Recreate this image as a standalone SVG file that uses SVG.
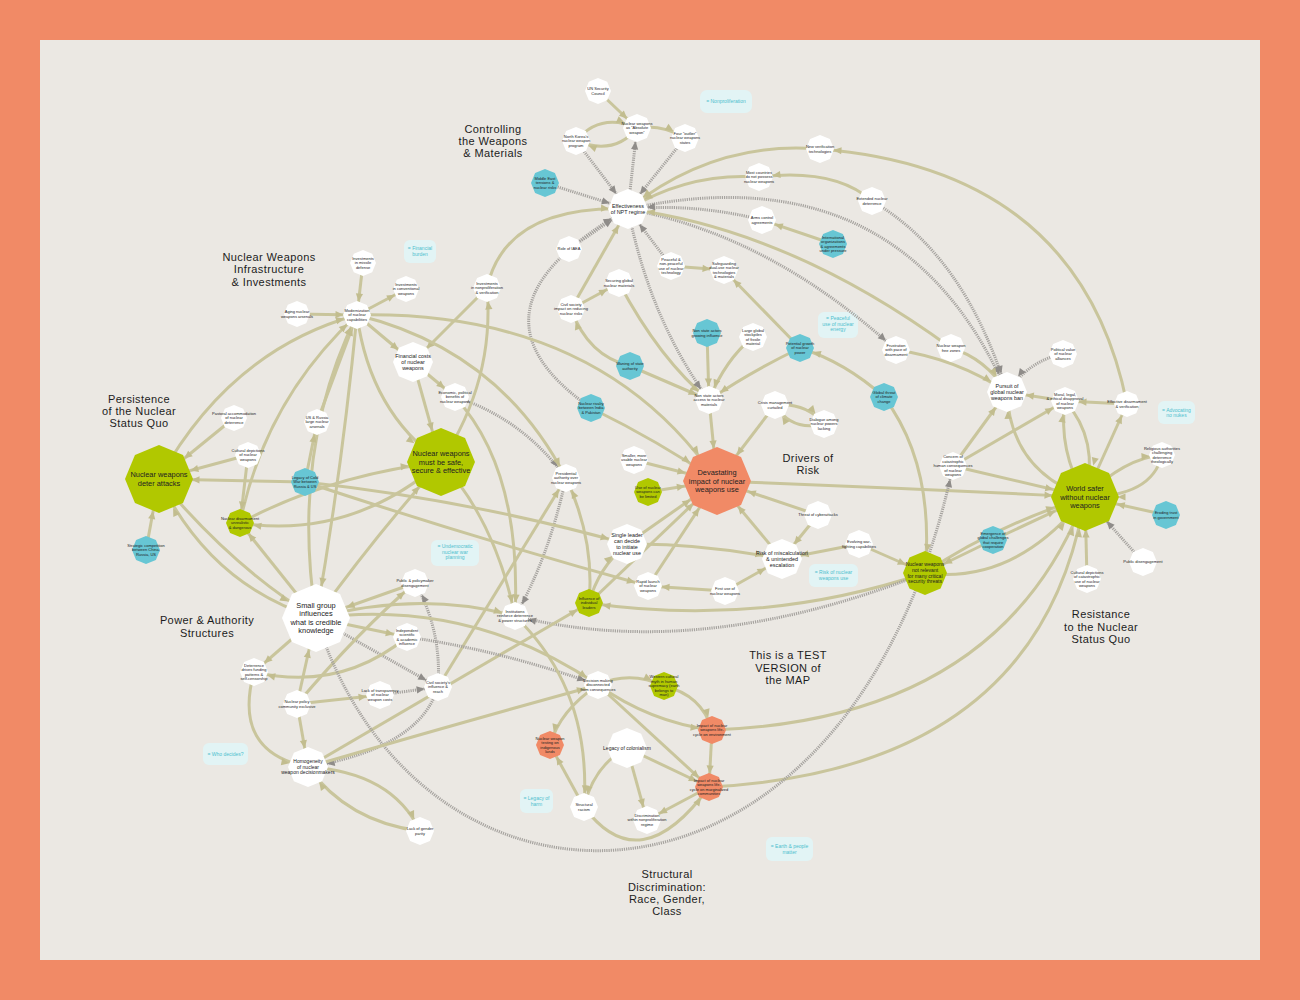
<svg xmlns="http://www.w3.org/2000/svg" width="1300" height="1000" viewBox="0 0 1300 1000">
<style>
.t{font-family:"Liberation Sans",Arial,sans-serif;fill:#222;text-anchor:middle}
.s{font-size:4px}
.m{font-size:5.4px}
.L{font-size:7.4px}
.q{font-size:5px}
.h{font-family:"Liberation Sans",Arial,sans-serif;font-size:11px;letter-spacing:0.4px;fill:#1c1c1c;text-anchor:middle}
.p{font-family:"Liberation Sans",Arial,sans-serif;font-size:5px;fill:#4dbfce;text-anchor:middle}
.pill{fill:#e2f4f5}
.w{fill:#ffffff}
.gr{fill:#b1c800}
.bl{fill:#67c6d4}
.or{fill:#f18a66}
.k{fill:none;stroke:#c9c59c;stroke-width:3}
.g{fill:none;stroke:#a6a39f;stroke-width:3;stroke-dasharray:1.2 1}
</style>
<defs>
<polygon id="o" points="0,-1 0.707,-0.707 1,0 0.707,0.707 0,1 -0.707,0.707 -1,0 -0.707,-0.707"/>
<marker id="kA" markerUnits="userSpaceOnUse" orient="auto" style="overflow:visible"><path d="M-12.5,0 L-20.5,-3.6 L-20.5,3.6 Z" fill="#c2bd8f"/></marker>
<marker id="kB" markerUnits="userSpaceOnUse" orient="auto" style="overflow:visible"><path d="M-13.5,0 L-21.5,-3.6 L-21.5,3.6 Z" fill="#c2bd8f"/></marker>
<marker id="kC" markerUnits="userSpaceOnUse" orient="auto" style="overflow:visible"><path d="M-19,0 L-27,-3.6 L-27,3.6 Z" fill="#c2bd8f"/></marker>
<marker id="kD" markerUnits="userSpaceOnUse" orient="auto" style="overflow:visible"><path d="M-21,0 L-29,-3.6 L-29,3.6 Z" fill="#c2bd8f"/></marker>
<marker id="kE" markerUnits="userSpaceOnUse" orient="auto" style="overflow:visible"><path d="M-32.5,0 L-40.5,-3.6 L-40.5,3.6 Z" fill="#c2bd8f"/></marker>
<marker id="gB" markerUnits="userSpaceOnUse" orient="auto" style="overflow:visible"><path d="M-13.5,0 L-21.5,-3.6 L-21.5,3.6 Z" fill="#8f8c89"/></marker>
<marker id="gC" markerUnits="userSpaceOnUse" orient="auto" style="overflow:visible"><path d="M-19,0 L-27,-3.6 L-27,3.6 Z" fill="#8f8c89"/></marker>
<marker id="gE" markerUnits="userSpaceOnUse" orient="auto" style="overflow:visible"><path d="M-32.5,0 L-40.5,-3.6 L-40.5,3.6 Z" fill="#8f8c89"/></marker>
</defs>
<rect x="0" y="0" width="1300" height="1000" fill="#f18a66"/>
<rect x="40" y="40" width="1220" height="920" fill="#ebe8e3"/>

<g id="titles">
<text class="h" x="493" y="132.6"><tspan x="493">Controlling</tspan><tspan x="493" dy="12.4">the Weapons</tspan><tspan x="493" dy="12.4">&amp; Materials</tspan></text>
<text class="h" x="269" y="260.8"><tspan x="269">Nuclear Weapons</tspan><tspan x="269" dy="12.4">Infrastructure</tspan><tspan x="269" dy="12.4">&amp; Investments</tspan></text>
<text class="h" x="139" y="402.6"><tspan x="139">Persistence</tspan><tspan x="139" dy="12.4">of the Nuclear</tspan><tspan x="139" dy="12.4">Status Quo</tspan></text>
<text class="h" x="207" y="624.3"><tspan x="207">Power &amp; Authority</tspan><tspan x="207" dy="12.4">Structures</tspan></text>
<text class="h" x="808" y="461.6"><tspan x="808">Drivers of</tspan><tspan x="808" dy="12.4">Risk</tspan></text>
<text class="h" x="1101" y="618.3"><tspan x="1101">Resistance</tspan><tspan x="1101" dy="12.4">to the Nuclear</tspan><tspan x="1101" dy="12.4">Status Quo</tspan></text>
<text class="h" x="788" y="659.3"><tspan x="788">This is a TEST</tspan><tspan x="788" dy="12.4">VERSION of</tspan><tspan x="788" dy="12.4">the MAP</tspan></text>
<text class="h" x="667" y="878.1"><tspan x="667">Structural</tspan><tspan x="667" dy="12.4">Discrimination:</tspan><tspan x="667" dy="12.4">Race, Gender,</tspan><tspan x="667" dy="12.4">Class</tspan></text>
</g>

<g id="pills">
<rect class="pill" x="700" y="90" width="52" height="23" rx="7"/><text class="p" x="726" y="103.3">= Nonproliferation</text>
<rect class="pill" x="404" y="240" width="32" height="23" rx="6"/><text class="p" x="420" y="250.2"><tspan x="420">= Financial</tspan><tspan x="420" dy="5.6">burden</tspan></text>
<rect class="pill" x="818" y="312" width="40" height="26" rx="6"/><text class="p" x="838" y="320"><tspan x="838">= Peaceful</tspan><tspan x="838" dy="5.6">use of nuclear</tspan><tspan x="838" dy="5.6">energy</tspan></text>
<rect class="pill" x="1158" y="401" width="37" height="23" rx="6"/><text class="p" x="1176.5" y="411.5"><tspan x="1176.5">= Advocating</tspan><tspan x="1176.5" dy="5.6">no nukes</tspan></text>
<rect class="pill" x="431" y="540" width="48" height="26" rx="6"/><text class="p" x="455" y="548"><tspan x="455">= Undemocratic</tspan><tspan x="455" dy="5.6">nuclear war</tspan><tspan x="455" dy="5.6">planning</tspan></text>
<rect class="pill" x="809" y="564" width="49" height="23" rx="6"/><text class="p" x="833.5" y="574.3"><tspan x="833.5">= Risk of nuclear</tspan><tspan x="833.5" dy="5.6">weapons use</tspan></text>
<rect class="pill" x="203" y="743" width="45" height="22" rx="6"/><text class="p" x="225.5" y="755.6">= Who decides?</text>
<rect class="pill" x="520" y="789" width="33" height="24" rx="6"/><text class="p" x="536.5" y="800.3"><tspan x="536.5">= Legacy of</tspan><tspan x="536.5" dy="5.6">harm</tspan></text>
<rect class="pill" x="766" y="837" width="47" height="24" rx="6"/><text class="p" x="789.5" y="848.3"><tspan x="789.5">= Earth &amp; people</tspan><tspan x="789.5" dy="5.6">matter</tspan></text>
</g>

<g id="connectors">
<path class="k" d="M598,91 L637,128" marker-end="url(#kB)"/>
<path class="k" d="M576,141 Q600,112 637,128" marker-end="url(#kB)"/>
<path class="k" d="M637,128 Q615,156 576,141" marker-end="url(#kB)"/>
<path class="k" d="M637,128 Q662,124 685,138" marker-end="url(#kB)"/>
<path class="g" d="M628,209 L637,128" marker-end="url(#gB)"/>
<path class="g" d="M576,141 L628,209" marker-end="url(#gC)"/>
<path class="g" d="M685,138 L628,209" marker-end="url(#gC)"/>
<path class="g" d="M545,183 L628,209" marker-end="url(#gC)"/>
<path class="g" d="M569,249 L628,209" marker-end="url(#gC)"/>
<path class="k" d="M487,288 Q505,205 628,209" marker-end="url(#kC)"/>
<path class="k" d="M571,309 L628,209" marker-end="url(#kC)"/>
<path class="k" d="M571,309 L619,283" marker-end="url(#kB)"/>
<path class="g" d="M671,266 L628,209" marker-end="url(#gC)"/>
<path class="k" d="M671,266 L724,270" marker-end="url(#kB)"/>
<path class="k" d="M820,149 Q715,140 628,209" marker-end="url(#kC)"/>
<path class="k" d="M1127,404 Q1080,170 820,149" marker-end="url(#kB)"/>
<path class="k" d="M759,177 Q690,172 628,209" marker-end="url(#kC)"/>
<path class="k" d="M872,201 Q835,168 759,177" marker-end="url(#kB)"/>
<path class="g" d="M872,201 Q965,255 1007,392" marker-end="url(#gC)"/>
<path class="g" d="M628,209 Q900,150 1007,392" marker-end="url(#gC)"/>
<path class="g" d="M628,209 Q770,235 896,350" marker-end="url(#gB)"/>
<path class="k" d="M951,348 Q790,230 628,209" marker-end="url(#kC)"/>
<path class="k" d="M896,350 Q955,358 1007,392" marker-end="url(#kC)"/>
<path class="k" d="M951,348 Q985,358 1007,392" marker-end="url(#kC)"/>
<path class="g" d="M1063,354 Q1030,360 1007,392" marker-end="url(#gC)"/>
<path class="g" d="M762,220 Q695,203 628,209" marker-end="url(#gC)"/>
<path class="k" d="M833,244 L762,220" marker-end="url(#kB)"/>
<path class="k" d="M800,348 L724,270" marker-end="url(#kB)"/>
<path class="k" d="M884,397 Q845,362 800,348" marker-end="url(#kB)"/>
<path class="k" d="M753,337 Q725,360 709,400" marker-end="url(#kB)"/>
<path class="k" d="M707,333 L709,400" marker-end="url(#kB)"/>
<path class="k" d="M800,348 Q750,372 709,400" marker-end="url(#kB)"/>
<path class="k" d="M619,283 Q660,360 709,400" marker-end="url(#kB)"/>
<path class="g" d="M628,209 Q650,320 709,400" marker-end="url(#gB)"/>
<path class="k" d="M630,366 L709,400" marker-end="url(#kB)"/>
<path class="g" d="M591,408 Q450,310 628,209" marker-end="url(#gC)"/>
<path class="k" d="M630,366 Q588,356 571,309" marker-end="url(#kB)"/>
<path class="k" d="M775,405 L717,481" marker-end="url(#kE)"/>
<path class="k" d="M775,405 Q806,402 824,424" marker-end="url(#kB)"/>
<path class="k" d="M824,424 Q792,432 775,405" marker-end="url(#kB)"/>
<path class="k" d="M709,400 L717,481" marker-end="url(#kE)"/>
<path class="k" d="M634,460 L717,481" marker-end="url(#kE)"/>
<path class="k" d="M648,492 L717,481" marker-end="url(#kE)"/>
<path class="k" d="M591,408 Q660,442 717,481" marker-end="url(#kE)"/>
<path class="k" d="M818,515 L717,481" marker-end="url(#kE)"/>
<path class="k" d="M818,515 L782,559" marker-end="url(#kC)"/>
<path class="k" d="M782,559 L717,481" marker-end="url(#kE)"/>
<path class="k" d="M859,544 L782,559" marker-end="url(#kC)"/>
<path class="k" d="M859,544 L925,573" marker-end="url(#kD)"/>
<path class="k" d="M884,397 Q935,465 925,573" marker-end="url(#kD)"/>
<path class="k" d="M717,481 Q900,488 1085,497" marker-end="url(#kE)"/>
<path class="k" d="M725,591 L782,559" marker-end="url(#kC)"/>
<path class="k" d="M725,591 L648,586" marker-end="url(#kB)"/>
<path class="k" d="M627,544 Q700,543 782,559" marker-end="url(#kC)"/>
<path class="k" d="M627,544 L717,481" marker-end="url(#kE)"/>
<path class="k" d="M589,603 Q598,568 627,544" marker-end="url(#kC)"/>
<path class="k" d="M589,603 Q595,540 566,478" marker-end="url(#kB)"/>
<path class="g" d="M566,478 Q548,560 515,616" marker-end="url(#gB)"/>
<path class="k" d="M438,687 L566,478" marker-end="url(#kB)"/>
<path class="k" d="M441,462 Q495,520 515,616" marker-end="url(#kB)"/>
<path class="k" d="M455,397 Q522,470 515,616" marker-end="url(#kB)"/>
<path class="g" d="M455,397 Q522,418 566,478" marker-end="url(#gB)"/>
<path class="k" d="M925,573 Q760,628 589,603" marker-end="url(#kB)"/>
<path class="g" d="M925,573 Q700,662 515,616" marker-end="url(#gB)"/>
<path class="k" d="M925,573 Q990,528 1085,497" marker-end="url(#kE)"/>
<path class="k" d="M993,540 L1085,497" marker-end="url(#kE)"/>
<path class="k" d="M993,540 L925,573" marker-end="url(#kD)"/>
<path class="k" d="M925,573 Q1015,585 1085,497" marker-end="url(#kE)"/>
<path class="k" d="M1065,401 L1007,392" marker-end="url(#kC)"/>
<path class="k" d="M1127,404 L1065,401" marker-end="url(#kB)"/>
<path class="k" d="M1085,497 Q1010,470 1007,392" marker-end="url(#kC)"/>
<path class="k" d="M953,466 L1007,392" marker-end="url(#kC)"/>
<path class="k" d="M953,466 L1085,497" marker-end="url(#kE)"/>
<path class="k" d="M953,466 L1065,401" marker-end="url(#kB)"/>
<path class="k" d="M1085,497 Q1058,450 1065,401" marker-end="url(#kB)"/>
<path class="k" d="M1065,401 Q1100,440 1085,497" marker-end="url(#kE)"/>
<path class="k" d="M1085,497 L1127,404" marker-end="url(#kA)"/>
<path class="k" d="M1085,497 Q1125,458 1162,455" marker-end="url(#kA)"/>
<path class="k" d="M1162,455 Q1152,497 1085,497" marker-end="url(#kE)"/>
<path class="k" d="M1166,515 L1085,497" marker-end="url(#kE)"/>
<path class="g" d="M1143,562 L1085,497" marker-end="url(#gE)"/>
<path class="k" d="M1087,579 L1085,497" marker-end="url(#kE)"/>
<path class="k" d="M712,730 Q1000,720 1085,497" marker-end="url(#kE)"/>
<path class="k" d="M709,787 Q1040,770 1085,497" marker-end="url(#kE)"/>
<path class="k" d="M308,767 L589,603" marker-end="url(#kB)"/>
<path class="k" d="M297,314 L357,315" marker-end="url(#kB)"/>
<path class="k" d="M363,263 L357,315" marker-end="url(#kB)"/>
<path class="k" d="M357,315 L406,289" marker-end="url(#kA)"/>
<path class="k" d="M357,315 L413,362" marker-end="url(#kC)"/>
<path class="k" d="M487,288 L413,362" marker-end="url(#kC)"/>
<path class="k" d="M441,462 Q495,380 487,288" marker-end="url(#kB)"/>
<path class="k" d="M159,479 Q230,350 357,315" marker-end="url(#kB)"/>
<path class="k" d="M317,422 L357,315" marker-end="url(#kB)"/>
<path class="k" d="M240,523 Q265,400 357,315" marker-end="url(#kB)"/>
<path class="k" d="M316,618 Q290,450 357,315" marker-end="url(#kB)"/>
<path class="k" d="M357,315 Q342,470 316,618" marker-end="url(#kE)"/>
<path class="k" d="M357,315 Q370,412 441,462" marker-end="url(#kE)"/>
<path class="k" d="M413,362 L441,462" marker-end="url(#kE)"/>
<path class="k" d="M357,315 Q600,310 717,481" marker-end="url(#kE)"/>
<path class="k" d="M357,315 Q500,350 566,478" marker-end="url(#kB)"/>
<path class="k" d="M413,362 L455,397" marker-end="url(#kB)"/>
<path class="k" d="M234,418 L159,479" marker-end="url(#kE)"/>
<path class="k" d="M248,455 L159,479" marker-end="url(#kE)"/>
<path class="k" d="M305,482 L159,479" marker-end="url(#kE)"/>
<path class="k" d="M146,550 L159,479" marker-end="url(#kE)"/>
<path class="k" d="M305,482 L317,422" marker-end="url(#kA)"/>
<path class="k" d="M248,455 L240,523" marker-end="url(#kB)"/>
<path class="k" d="M316,618 L240,523" marker-end="url(#kB)"/>
<path class="k" d="M441,462 Q350,540 240,523" marker-end="url(#kB)"/>
<path class="k" d="M240,523 Q330,475 441,462" marker-end="url(#kE)"/>
<path class="k" d="M316,618 Q372,540 441,462" marker-end="url(#kE)"/>
<path class="k" d="M305,482 Q470,500 627,544" marker-end="url(#kC)"/>
<path class="k" d="M305,482 Q480,540 648,586" marker-end="url(#kB)"/>
<path class="k" d="M316,618 Q210,585 159,479" marker-end="url(#kE)"/>
<path class="k" d="M159,479 Q235,570 316,618" marker-end="url(#kE)"/>
<path class="k" d="M415,583 L316,618" marker-end="url(#kE)"/>
<path class="k" d="M316,618 L407,637" marker-end="url(#kB)"/>
<path class="g" d="M316,618 L438,687" marker-end="url(#gB)"/>
<path class="k" d="M316,618 L254,672" marker-end="url(#kB)"/>
<path class="k" d="M297,704 L316,618" marker-end="url(#kE)"/>
<path class="k" d="M297,704 L308,767" marker-end="url(#kC)"/>
<path class="k" d="M254,672 Q232,752 308,767" marker-end="url(#kC)"/>
<path class="k" d="M407,637 Q340,692 254,672" marker-end="url(#kB)"/>
<path class="k" d="M297,704 Q360,630 415,583" marker-end="url(#kB)"/>
<path class="k" d="M297,704 L380,695" marker-end="url(#kB)"/>
<path class="g" d="M380,695 L438,687" marker-end="url(#gB)"/>
<path class="g" d="M438,687 Q442,630 415,583" marker-end="url(#gB)"/>
<path class="g" d="M438,687 Q420,748 308,767" marker-end="url(#gC)"/>
<path class="k" d="M308,767 Q392,772 420,831" marker-end="url(#kB)"/>
<path class="k" d="M420,831 Q348,822 308,767" marker-end="url(#kC)"/>
<path class="g" d="M316,618 C420,950 850,950 953,466" marker-end="url(#gB)"/>
<path class="g" d="M407,637 Q500,650 598,685" marker-end="url(#gB)"/>
<path class="k" d="M316,618 Q470,598 598,685" marker-end="url(#kB)"/>
<path class="k" d="M598,685 Q560,710 550,745" marker-end="url(#kB)"/>
<path class="k" d="M598,685 Q650,722 712,730" marker-end="url(#kB)"/>
<path class="k" d="M598,685 L709,787" marker-end="url(#kB)"/>
<path class="k" d="M598,685 Q630,670 664,686" marker-end="url(#kB)"/>
<path class="k" d="M664,686 Q702,695 712,730" marker-end="url(#kB)"/>
<path class="k" d="M308,767 Q470,720 598,685" marker-end="url(#kB)"/>
<path class="k" d="M515,616 Q592,690 584,807" marker-end="url(#kB)"/>
<path class="k" d="M584,807 L550,745" marker-end="url(#kB)"/>
<path class="k" d="M627,748 Q594,765 584,807" marker-end="url(#kB)"/>
<path class="k" d="M627,748 L647,820" marker-end="url(#kB)"/>
<path class="k" d="M627,748 L709,787" marker-end="url(#kB)"/>
<path class="k" d="M712,730 L709,787" marker-end="url(#kB)"/>
<path class="k" d="M709,787 L647,820" marker-end="url(#kB)"/>
<path class="k" d="M584,807 Q640,882 709,787" marker-end="url(#kB)"/>
<path class="k" d="M316,618 Q420,590 515,616" marker-end="url(#kB)"/>
<path class="k" d="M589,603 L717,481" marker-end="url(#kE)"/>
<path class="k" d="M648,586 L717,481" marker-end="url(#kE)"/>
</g>

<g id="nodes">
<g id="n-unsc"><use href="#o" transform="translate(598 91) scale(13)" class="w"/><text class="t s" x="598" y="90.15"><tspan x="598">UN Security</tspan><tspan x="598" dy="4.5">Council</tspan></text></g>
<g id="n-abs"><use href="#o" transform="translate(637 128) scale(14)" class="w"/><text class="t s" x="637" y="124.9"><tspan x="637">Nuclear weapons</tspan><tspan x="637" dy="4.5">as “Absolute</tspan><tspan x="637" dy="4.5">weapon”</tspan></text></g>
<g id="n-nk"><use href="#o" transform="translate(576 141) scale(14)" class="w"/><text class="t s" x="576" y="137.9"><tspan x="576">North Korea's</tspan><tspan x="576" dy="4.5">nuclear weapon</tspan><tspan x="576" dy="4.5">program</tspan></text></g>
<g id="n-four"><use href="#o" transform="translate(685 138) scale(14)" class="w"/><text class="t s" x="685" y="134.9"><tspan x="685">Four “outlier”</tspan><tspan x="685" dy="4.5">nuclear weapons</tspan><tspan x="685" dy="4.5">states</tspan></text></g>
<g id="n-me"><use href="#o" transform="translate(545 183) scale(14)" class="bl"/><text class="t s" x="545" y="179.9"><tspan x="545">Middle East</tspan><tspan x="545" dy="4.5">tensions &amp;</tspan><tspan x="545" dy="4.5">nuclear risks</tspan></text></g>
<g id="n-npt"><use href="#o" transform="translate(628 209) scale(20)" class="w"/><text class="t m" x="628" y="207.85"><tspan x="628">Effectiveness</tspan><tspan x="628" dy="6.1">of NPT regime</tspan></text></g>
<g id="n-nvt"><use href="#o" transform="translate(820 149) scale(14)" class="w"/><text class="t s" x="820" y="148.15"><tspan x="820">New verification</tspan><tspan x="820" dy="4.5">technologies</tspan></text></g>
<g id="n-most"><use href="#o" transform="translate(759 177) scale(14)" class="w"/><text class="t s" x="759" y="173.9"><tspan x="759">Most countries</tspan><tspan x="759" dy="4.5">do not possess</tspan><tspan x="759" dy="4.5">nuclear weapons</tspan></text></g>
<g id="n-end"><use href="#o" transform="translate(872 201) scale(14)" class="w"/><text class="t s" x="872" y="200.15"><tspan x="872">Extended nuclear</tspan><tspan x="872" dy="4.5">deterrence</tspan></text></g>
<g id="n-arms"><use href="#o" transform="translate(762 220) scale(14)" class="w"/><text class="t s" x="762" y="219.15"><tspan x="762">Arms control</tspan><tspan x="762" dy="4.5">agreements</tspan></text></g>
<g id="n-intl"><use href="#o" transform="translate(833 244) scale(14)" class="bl"/><text class="t s" x="833" y="238.65"><tspan x="833">International</tspan><tspan x="833" dy="4.5">organizations</tspan><tspan x="833" dy="4.5">&amp; agreements</tspan><tspan x="833" dy="4.5">under pressure</tspan></text></g>
<g id="n-iaea"><use href="#o" transform="translate(569 249) scale(13)" class="w"/><text class="t s" x="569" y="250.4">Role of IAEA</text></g>
<g id="n-peac"><use href="#o" transform="translate(671 266) scale(14)" class="w"/><text class="t s" x="671" y="260.65"><tspan x="671">Peaceful &amp;</tspan><tspan x="671" dy="4.5">non-peaceful</tspan><tspan x="671" dy="4.5">use of nuclear</tspan><tspan x="671" dy="4.5">technology</tspan></text></g>
<g id="n-safedu"><use href="#o" transform="translate(724 270) scale(14)" class="w"/><text class="t s" x="724" y="264.65"><tspan x="724">Safeguarding</tspan><tspan x="724" dy="4.5">dual-use nuclear</tspan><tspan x="724" dy="4.5">technologies</tspan><tspan x="724" dy="4.5">&amp; materials</tspan></text></g>
<g id="n-secur"><use href="#o" transform="translate(619 283) scale(14)" class="w"/><text class="t s" x="619" y="282.15"><tspan x="619">Securing global</tspan><tspan x="619" dy="4.5">nuclear materials</tspan></text></g>
<g id="n-civimp"><use href="#o" transform="translate(571 309) scale(14)" class="w"/><text class="t s" x="571" y="305.9"><tspan x="571">Civil society</tspan><tspan x="571" dy="4.5">impact on reducing</tspan><tspan x="571" dy="4.5">nuclear risks</tspan></text></g>
<g id="n-invnp"><use href="#o" transform="translate(487 288) scale(14)" class="w"/><text class="t s" x="487" y="284.9"><tspan x="487">Investments</tspan><tspan x="487" dy="4.5">in nonproliferation</tspan><tspan x="487" dy="4.5">&amp; verification</tspan></text></g>
<g id="n-nsag"><use href="#o" transform="translate(707 333) scale(14)" class="bl"/><text class="t s" x="707" y="332.15"><tspan x="707">Non state actors</tspan><tspan x="707" dy="4.5">growing influence</tspan></text></g>
<g id="n-stock"><use href="#o" transform="translate(753 337) scale(14)" class="w"/><text class="t s" x="753" y="331.65"><tspan x="753">Large global</tspan><tspan x="753" dy="4.5">stockpiles</tspan><tspan x="753" dy="4.5">of fissile</tspan><tspan x="753" dy="4.5">material</tspan></text></g>
<g id="n-power"><use href="#o" transform="translate(800 348) scale(14)" class="bl"/><text class="t s" x="800" y="344.9"><tspan x="800">Potential growth</tspan><tspan x="800" dy="4.5">of nuclear</tspan><tspan x="800" dy="4.5">power</tspan></text></g>
<g id="n-frus"><use href="#o" transform="translate(896 350) scale(14)" class="w"/><text class="t s" x="896" y="346.9"><tspan x="896">Frustration</tspan><tspan x="896" dy="4.5">with pace of</tspan><tspan x="896" dy="4.5">disarmament</tspan></text></g>
<g id="n-nwfz"><use href="#o" transform="translate(951 348) scale(14)" class="w"/><text class="t s" x="951" y="347.15"><tspan x="951">Nuclear weapon</tspan><tspan x="951" dy="4.5">free zones</tspan></text></g>
<g id="n-waning"><use href="#o" transform="translate(630 366) scale(14)" class="bl"/><text class="t s" x="630" y="365.15"><tspan x="630">Waning of state</tspan><tspan x="630" dy="4.5">authority</tspan></text></g>
<g id="n-nsaa"><use href="#o" transform="translate(709 400) scale(14)" class="w"/><text class="t s" x="709" y="396.9"><tspan x="709">Non state actors</tspan><tspan x="709" dy="4.5">access to nuclear</tspan><tspan x="709" dy="4.5">materials</tspan></text></g>
<g id="n-crisis"><use href="#o" transform="translate(775 405) scale(14)" class="w"/><text class="t s" x="775" y="404.15"><tspan x="775">Crisis management</tspan><tspan x="775" dy="4.5">curtailed</tspan></text></g>
<g id="n-dial"><use href="#o" transform="translate(824 424) scale(14)" class="w"/><text class="t s" x="824" y="420.9"><tspan x="824">Dialogue among</tspan><tspan x="824" dy="4.5">nuclear powers</tspan><tspan x="824" dy="4.5">lacking</tspan></text></g>
<g id="n-clim"><use href="#o" transform="translate(884 397) scale(14)" class="bl"/><text class="t s" x="884" y="393.9"><tspan x="884">Global threat</tspan><tspan x="884" dy="4.5">of climate</tspan><tspan x="884" dy="4.5">change</tspan></text></g>
<g id="n-indpak"><use href="#o" transform="translate(591 408) scale(14)" class="bl"/><text class="t s" x="591" y="404.9"><tspan x="591">Nuclear rivalry</tspan><tspan x="591" dy="4.5">between India</tspan><tspan x="591" dy="4.5">&amp; Pakistan</tspan></text></g>
<g id="n-miss"><use href="#o" transform="translate(363 263) scale(13)" class="w"/><text class="t s" x="363" y="259.9"><tspan x="363">Investments</tspan><tspan x="363" dy="4.5">in missile</tspan><tspan x="363" dy="4.5">defense</tspan></text></g>
<g id="n-conv"><use href="#o" transform="translate(406 289) scale(13)" class="w"/><text class="t s" x="406" y="285.9"><tspan x="406">Investments</tspan><tspan x="406" dy="4.5">in conventional</tspan><tspan x="406" dy="4.5">weapons</tspan></text></g>
<g id="n-aging"><use href="#o" transform="translate(297 314) scale(13)" class="w"/><text class="t s" x="297" y="313.15"><tspan x="297">Aging nuclear</tspan><tspan x="297" dy="4.5">weapons arsenals</tspan></text></g>
<g id="n-mod"><use href="#o" transform="translate(357 315) scale(14)" class="w"/><text class="t s" x="357" y="311.9"><tspan x="357">Modernization</tspan><tspan x="357" dy="4.5">of nuclear</tspan><tspan x="357" dy="4.5">capabilities</tspan></text></g>
<g id="n-fin"><use href="#o" transform="translate(413 362) scale(20)" class="w"/><text class="t m" x="413" y="357.8"><tspan x="413">Financial costs</tspan><tspan x="413" dy="6.1">of nuclear</tspan><tspan x="413" dy="6.1">weapons</tspan></text></g>
<g id="n-econ"><use href="#o" transform="translate(455 397) scale(14)" class="w"/><text class="t s" x="455" y="393.9"><tspan x="455">Economic, political</tspan><tspan x="455" dy="4.5">benefits of</tspan><tspan x="455" dy="4.5">nuclear weapons</tspan></text></g>
<g id="n-past"><use href="#o" transform="translate(234 418) scale(13)" class="w"/><text class="t s" x="234" y="414.9"><tspan x="234">Pastoral accommodation</tspan><tspan x="234" dy="4.5">of nuclear</tspan><tspan x="234" dy="4.5">deterrence</tspan></text></g>
<g id="n-usru"><use href="#o" transform="translate(317 422) scale(13)" class="w"/><text class="t s" x="317" y="418.9"><tspan x="317">US &amp; Russia</tspan><tspan x="317" dy="4.5">large nuclear</tspan><tspan x="317" dy="4.5">arsenals</tspan></text></g>
<g id="n-cult"><use href="#o" transform="translate(248 455) scale(13)" class="w"/><text class="t s" x="248" y="451.9"><tspan x="248">Cultural depictions</tspan><tspan x="248" dy="4.5">of nuclear</tspan><tspan x="248" dy="4.5">weapons</tspan></text></g>
<g id="n-deter"><use href="#o" transform="translate(159 479) scale(34)" class="gr"/><text class="t L" x="159" y="477.45"><tspan x="159">Nuclear weapons</tspan><tspan x="159" dy="8.3">deter attacks</tspan></text></g>
<g id="n-cold"><use href="#o" transform="translate(305 482) scale(14)" class="bl"/><text class="t s" x="305" y="478.9"><tspan x="305">Legacy of Cold</tspan><tspan x="305" dy="4.5">War between</tspan><tspan x="305" dy="4.5">Russia &amp; US</tspan></text></g>
<g id="n-must"><use href="#o" transform="translate(441 462) scale(34)" class="gr"/><text class="t L" x="441" y="456.3"><tspan x="441">Nuclear weapons</tspan><tspan x="441" dy="8.3">must be safe,</tspan><tspan x="441" dy="8.3">secure &amp; effective</tspan></text></g>
<g id="n-unreal"><use href="#o" transform="translate(240 523) scale(14)" class="gr"/><text class="t s" x="240" y="519.9"><tspan x="240">Nuclear disarmament</tspan><tspan x="240" dy="4.5">unrealistic</tspan><tspan x="240" dy="4.5">&amp; dangerous</tspan></text></g>
<g id="n-strat"><use href="#o" transform="translate(146 550) scale(14)" class="bl"/><text class="t s" x="146" y="546.9"><tspan x="146">Strategic competition</tspan><tspan x="146" dy="4.5">between China,</tspan><tspan x="146" dy="4.5">Russia, US</tspan></text></g>
<g id="n-pres"><use href="#o" transform="translate(566 478) scale(14)" class="w"/><text class="t s" x="566" y="474.9"><tspan x="566">Presidential</tspan><tspan x="566" dy="4.5">authority over</tspan><tspan x="566" dy="4.5">nuclear weapons</tspan></text></g>
<g id="n-smaller"><use href="#o" transform="translate(634 460) scale(14)" class="w"/><text class="t s" x="634" y="456.9"><tspan x="634">Smaller, more</tspan><tspan x="634" dy="4.5">usable nuclear</tspan><tspan x="634" dy="4.5">weapons</tspan></text></g>
<g id="n-limited"><use href="#o" transform="translate(648 492) scale(14)" class="gr"/><text class="t s" x="648" y="488.9"><tspan x="648">Use of nuclear</tspan><tspan x="648" dy="4.5">weapons can</tspan><tspan x="648" dy="4.5">be limited</tspan></text></g>
<g id="n-dev"><use href="#o" transform="translate(717 481) scale(34)" class="or"/><text class="t L" x="717" y="475.3"><tspan x="717">Devastating</tspan><tspan x="717" dy="8.3">impact of nuclear</tspan><tspan x="717" dy="8.3">weapons use</tspan></text></g>
<g id="n-single"><use href="#o" transform="translate(627 544) scale(20)" class="w"/><text class="t m" x="627" y="536.75"><tspan x="627">Single leader</tspan><tspan x="627" dy="6.1">can decide</tspan><tspan x="627" dy="6.1">to initiate</tspan><tspan x="627" dy="6.1">nuclear use</tspan></text></g>
<g id="n-cyber"><use href="#o" transform="translate(818 515) scale(14)" class="w"/><text class="t s" x="818" y="516.4">Threat of cyberattacks</text></g>
<g id="n-risk"><use href="#o" transform="translate(782 559) scale(20)" class="w"/><text class="t m" x="782" y="554.8"><tspan x="782">Risk of miscalculation</tspan><tspan x="782" dy="6.1">&amp; unintended</tspan><tspan x="782" dy="6.1">escalation</tspan></text></g>
<g id="n-evolv"><use href="#o" transform="translate(859 544) scale(14)" class="w"/><text class="t s" x="859" y="543.15"><tspan x="859">Evolving war-</tspan><tspan x="859" dy="4.5">fighting capabilities</tspan></text></g>
<g id="n-rapid"><use href="#o" transform="translate(648 586) scale(14)" class="w"/><text class="t s" x="648" y="582.9"><tspan x="648">Rapid launch</tspan><tspan x="648" dy="4.5">of nuclear</tspan><tspan x="648" dy="4.5">weapons</tspan></text></g>
<g id="n-first"><use href="#o" transform="translate(725 591) scale(14)" class="w"/><text class="t s" x="725" y="590.15"><tspan x="725">First use of</tspan><tspan x="725" dy="4.5">nuclear weapons</tspan></text></g>
<g id="n-infl"><use href="#o" transform="translate(589 603) scale(14)" class="gr"/><text class="t s" x="589" y="599.9"><tspan x="589">Influence of</tspan><tspan x="589" dy="4.5">individual</tspan><tspan x="589" dy="4.5">leaders</tspan></text></g>
<g id="n-notrel"><use href="#o" transform="translate(925 573) scale(22)" class="gr"/><text class="t q" x="925" y="566.35"><tspan x="925">Nuclear weapons</tspan><tspan x="925" dy="5.6">not relevant</tspan><tspan x="925" dy="5.6">for many critical</tspan><tspan x="925" dy="5.6">security threats</tspan></text></g>
<g id="n-smallg"><use href="#o" transform="translate(316 618) scale(34)" class="w"/><text class="t L" x="316" y="608.15"><tspan x="316">Small group</tspan><tspan x="316" dy="8.3">influences</tspan><tspan x="316" dy="8.3">what is credible</tspan><tspan x="316" dy="8.3">knowledge</tspan></text></g>
<g id="n-pubpol"><use href="#o" transform="translate(415 583) scale(14)" class="w"/><text class="t s" x="415" y="582.15"><tspan x="415">Public &amp; policymaker</tspan><tspan x="415" dy="4.5">disengagement</tspan></text></g>
<g id="n-inst"><use href="#o" transform="translate(515 616) scale(14)" class="w"/><text class="t s" x="515" y="612.9"><tspan x="515">Institutions</tspan><tspan x="515" dy="4.5">reinforce deterrence</tspan><tspan x="515" dy="4.5">&amp; power structures</tspan></text></g>
<g id="n-indep"><use href="#o" transform="translate(407 637) scale(14)" class="w"/><text class="t s" x="407" y="631.65"><tspan x="407">Independent</tspan><tspan x="407" dy="4.5">scientific</tspan><tspan x="407" dy="4.5">&amp; academic</tspan><tspan x="407" dy="4.5">influence</tspan></text></g>
<g id="n-ddf"><use href="#o" transform="translate(254 672) scale(14)" class="w"/><text class="t s" x="254" y="666.65"><tspan x="254">Deterrence</tspan><tspan x="254" dy="4.5">drives funding</tspan><tspan x="254" dy="4.5">patterns &amp;</tspan><tspan x="254" dy="4.5">self-censorship</tspan></text></g>
<g id="n-civinf"><use href="#o" transform="translate(438 687) scale(14)" class="w"/><text class="t s" x="438" y="683.9"><tspan x="438">Civil society's</tspan><tspan x="438" dy="4.5">influence &amp;</tspan><tspan x="438" dy="4.5">reach</tspan></text></g>
<g id="n-lackt"><use href="#o" transform="translate(380 695) scale(14)" class="w"/><text class="t s" x="380" y="691.9"><tspan x="380">Lack of transparency</tspan><tspan x="380" dy="4.5">of nuclear</tspan><tspan x="380" dy="4.5">weapon costs</tspan></text></g>
<g id="n-npce"><use href="#o" transform="translate(297 704) scale(14)" class="w"/><text class="t s" x="297" y="703.15"><tspan x="297">Nuclear policy</tspan><tspan x="297" dy="4.5">community exclusive</tspan></text></g>
<g id="n-homo"><use href="#o" transform="translate(308 767) scale(20)" class="w"/><text class="t q" x="308" y="763.15"><tspan x="308">Homogeneity</tspan><tspan x="308" dy="5.6">of nuclear</tspan><tspan x="308" dy="5.6">weapon decisionmakers</tspan></text></g>
<g id="n-gender"><use href="#o" transform="translate(420 831) scale(14)" class="w"/><text class="t s" x="420" y="830.15"><tspan x="420">Lack of gender</tspan><tspan x="420" dy="4.5">parity</tspan></text></g>
<g id="n-decis"><use href="#o" transform="translate(598 685) scale(14)" class="w"/><text class="t s" x="598" y="681.9"><tspan x="598">Decision making</tspan><tspan x="598" dy="4.5">disconnected</tspan><tspan x="598" dy="4.5">from consequences</tspan></text></g>
<g id="n-west"><use href="#o" transform="translate(664 686) scale(14)" class="gr"/><text class="t s" x="664" y="678.4"><tspan x="664">Western cultural</tspan><tspan x="664" dy="4.5">myth in human</tspan><tspan x="664" dy="4.5">supremacy (earth</tspan><tspan x="664" dy="4.5">belongs to</tspan><tspan x="664" dy="4.5">man)</tspan></text></g>
<g id="n-impenv"><use href="#o" transform="translate(712 730) scale(14)" class="or"/><text class="t s" x="712" y="726.9"><tspan x="712">Impact of nuclear</tspan><tspan x="712" dy="4.5">weapons life-</tspan><tspan x="712" dy="4.5">cycle on environment</tspan></text></g>
<g id="n-test"><use href="#o" transform="translate(550 745) scale(14)" class="or"/><text class="t s" x="550" y="739.65"><tspan x="550">Nuclear weapon</tspan><tspan x="550" dy="4.5">testing on</tspan><tspan x="550" dy="4.5">indigenous</tspan><tspan x="550" dy="4.5">lands</tspan></text></g>
<g id="n-colon"><use href="#o" transform="translate(627 748) scale(20)" class="w"/><text class="t q" x="627" y="749.75">Legacy of colonialism</text></g>
<g id="n-impmar"><use href="#o" transform="translate(709 787) scale(14)" class="or"/><text class="t s" x="709" y="781.65"><tspan x="709">Impact of nuclear</tspan><tspan x="709" dy="4.5">weapons life-</tspan><tspan x="709" dy="4.5">cycle on marginalized</tspan><tspan x="709" dy="4.5">communities</tspan></text></g>
<g id="n-racism"><use href="#o" transform="translate(584 807) scale(14)" class="w"/><text class="t s" x="584" y="806.15"><tspan x="584">Structural</tspan><tspan x="584" dy="4.5">racism</tspan></text></g>
<g id="n-discr"><use href="#o" transform="translate(647 820) scale(14)" class="w"/><text class="t s" x="647" y="816.9"><tspan x="647">Discrimination</tspan><tspan x="647" dy="4.5">within nonproliferation</tspan><tspan x="647" dy="4.5">regime</tspan></text></g>
<g id="n-polv"><use href="#o" transform="translate(1063 354) scale(14)" class="w"/><text class="t s" x="1063" y="350.9"><tspan x="1063">Political value</tspan><tspan x="1063" dy="4.5">of nuclear</tspan><tspan x="1063" dy="4.5">alliances</tspan></text></g>
<g id="n-purs"><use href="#o" transform="translate(1007 392) scale(20)" class="w"/><text class="t m" x="1007" y="387.8"><tspan x="1007">Pursuit of</tspan><tspan x="1007" dy="6.1">global nuclear</tspan><tspan x="1007" dy="6.1">weapons ban</tspan></text></g>
<g id="n-moral"><use href="#o" transform="translate(1065 401) scale(14)" class="w"/><text class="t s" x="1065" y="395.65"><tspan x="1065">Moral, legal,</tspan><tspan x="1065" dy="4.5">&amp; ethical disapproval</tspan><tspan x="1065" dy="4.5">of nuclear</tspan><tspan x="1065" dy="4.5">weapons</tspan></text></g>
<g id="n-eff"><use href="#o" transform="translate(1127 404) scale(13)" class="w"/><text class="t s" x="1127" y="403.15"><tspan x="1127">Effective disarmament</tspan><tspan x="1127" dy="4.5">&amp; verification</tspan></text></g>
<g id="n-conc"><use href="#o" transform="translate(953 466) scale(14)" class="w"/><text class="t s" x="953" y="458.4"><tspan x="953">Concern of</tspan><tspan x="953" dy="4.5">catastrophic</tspan><tspan x="953" dy="4.5">human consequences</tspan><tspan x="953" dy="4.5">of nuclear</tspan><tspan x="953" dy="4.5">weapons</tspan></text></g>
<g id="n-relig"><use href="#o" transform="translate(1162 455) scale(13)" class="w"/><text class="t s" x="1162" y="449.65"><tspan x="1162">Religious authorities</tspan><tspan x="1162" dy="4.5">challenging</tspan><tspan x="1162" dy="4.5">deterrence</tspan><tspan x="1162" dy="4.5">theologically</tspan></text></g>
<g id="n-world"><use href="#o" transform="translate(1085 497) scale(34)" class="gr"/><text class="t L" x="1085" y="491.3"><tspan x="1085">World safer</tspan><tspan x="1085" dy="8.3">without nuclear</tspan><tspan x="1085" dy="8.3">weapons</tspan></text></g>
<g id="n-erode"><use href="#o" transform="translate(1166 515) scale(14)" class="bl"/><text class="t s" x="1166" y="514.15"><tspan x="1166">Eroding trust</tspan><tspan x="1166" dy="4.5">in government</tspan></text></g>
<g id="n-emerg"><use href="#o" transform="translate(993 540) scale(14)" class="bl"/><text class="t s" x="993" y="534.65"><tspan x="993">Emergence of</tspan><tspan x="993" dy="4.5">global challenges</tspan><tspan x="993" dy="4.5">that require</tspan><tspan x="993" dy="4.5">cooperation</tspan></text></g>
<g id="n-pubdis"><use href="#o" transform="translate(1143 562) scale(14)" class="w"/><text class="t s" x="1143" y="563.4">Public disengagement</text></g>
<g id="n-cultcat"><use href="#o" transform="translate(1087 579) scale(14)" class="w"/><text class="t s" x="1087" y="573.65"><tspan x="1087">Cultural depictions</tspan><tspan x="1087" dy="4.5">of catastrophic</tspan><tspan x="1087" dy="4.5">use of nuclear</tspan><tspan x="1087" dy="4.5">weapons</tspan></text></g>
</g>
</svg>
